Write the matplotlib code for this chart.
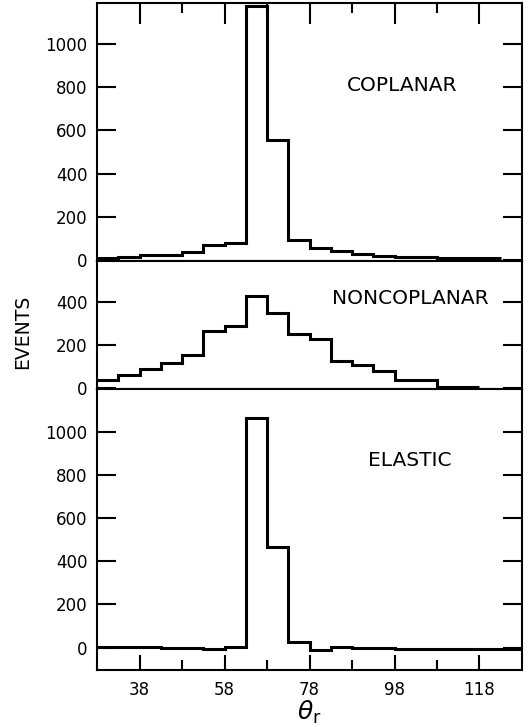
import numpy as np
import matplotlib
matplotlib.use("Agg")
import matplotlib.pyplot as plt
from matplotlib.ticker import FixedLocator

# bin edges (theta_r, 5 degree bins)
edges_cop = np.arange(28, 124, 5)
edges_non = np.arange(28, 119, 5)
edges_ela = np.arange(28, 129, 5)

coplanar = [10, 12, 23, 23, 36, 70, 78, 1178, 556, 93, 54, 39, 28, 19, 12, 11, 9, 8, 6]
noncoplanar = [40, 63, 92, 120, 155, 266, 288, 428, 349, 251, 228, 128, 108, 83, 40, 40, 8, 8]
elastic = [3, 3, 2, -3, -3, -6, 1, 1067, 465, 25, -12, 3, 0, -2, -5, -6, -6, -7, -7, -7]

panel_names = ["COPLANAR", "NONCOPLANAR", "ELASTIC"]
yticks_top = [0, 200, 400, 600, 800, 1000]
yticks_mid = [0, 200, 400]
xticks = [38, 58, 78, 98, 118]
xminor = [48, 68, 88, 108]

plt.rcParams["font.family"] = "DejaVu Sans"

fig = plt.figure(figsize=(5.31, 7.27), dpi=100)
gs = fig.add_gridspec(3, 1, height_ratios=[1195, 595, 1303], hspace=0,
                      left=0.183, right=0.983, top=0.9955, bottom=0.0784)
ax1 = fig.add_subplot(gs[0])
ax2 = fig.add_subplot(gs[1], sharex=ax1)
ax3 = fig.add_subplot(gs[2], sharex=ax1)

lw = 2.2
ax1.stairs(coplanar, edges_cop, baseline=None, color="black", lw=lw)
ax2.stairs(noncoplanar, edges_non, baseline=None, color="black", lw=lw)
ax3.stairs(elastic, edges_ela, baseline=None, color="black", lw=lw)

ax1.set_ylim(-5, 1190)
ax2.set_ylim(-3, 592)
ax3.set_ylim(-104, 1199)
ax1.set_xlim(28, 128)

ax1.set_yticks(yticks_top)
ax2.set_yticks(yticks_mid)
ax3.set_yticks(yticks_top)
ax3.xaxis.set_major_locator(FixedLocator(xticks))
ax3.xaxis.set_minor_locator(FixedLocator(xminor))

for ax in (ax1, ax2, ax3):
    for s in ax.spines.values():
        s.set_linewidth(1.5)
    ax.tick_params(axis="y", which="major", direction="in", length=14, width=1.5,
                   left=True, right=True, labelsize=12, pad=7)
    ax.tick_params(axis="y", which="minor", left=False, right=False)

# top panel: ticks along top edge only
ax1.tick_params(axis="x", which="both", direction="in", bottom=False, top=True,
                labelbottom=False, labeltop=False, width=1.5)
ax1.tick_params(axis="x", which="major", length=15)
ax1.tick_params(axis="x", which="minor", length=7)

# middle panel: no x ticks
ax2.tick_params(axis="x", which="both", bottom=False, top=False,
                labelbottom=False, labeltop=False)

# bottom panel: ticks along bottom edge
ax3.tick_params(axis="x", which="both", direction="in", bottom=True, top=False,
                labelbottom=True, width=1.5, labelsize=12)
ax3.tick_params(axis="x", which="major", length=11, pad=8)
ax3.tick_params(axis="x", which="minor", length=7)

ax1.text(0.717, 0.679, panel_names[0], transform=ax1.transAxes,
         ha="center", va="center", fontsize=14.5)
ax2.text(0.736, 0.703, panel_names[1], transform=ax2.transAxes,
         ha="center", va="center", fontsize=14.5)
ax3.text(0.736, 0.7475, panel_names[2], transform=ax3.transAxes,
         ha="center", va="center", fontsize=14.5)

fig.text(0.043, 0.543, "EVENTS", rotation=90, ha="center", va="center",
         fontsize=13.5)
ax3.set_xlabel(r"$\theta_{\rm r}$", fontsize=18, labelpad=0)

fig.savefig("out.png", dpi=100)
